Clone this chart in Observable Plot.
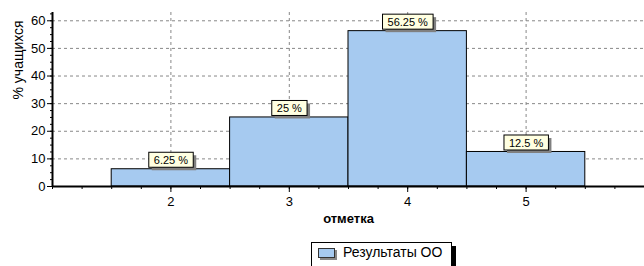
<!DOCTYPE html>
<html><head><meta charset="utf-8">
<script src="https://cdn.jsdelivr.net/npm/d3@7"></script>
<script src="https://cdn.jsdelivr.net/npm/@observablehq/plot@0.6"></script>
<style>
body{margin:0;background:#fff;font-family:Arial,"Liberation Sans",sans-serif;width:644px;height:266px;overflow:hidden;position:relative;}
#chart svg{display:block;}
#legend{position:absolute;left:311px;top:242px;width:139px;height:30px;border:1px solid #000;background:#fff;box-shadow:4px 4px 0 #000;}
#legend .sw{position:absolute;left:6px;top:5px;width:15px;height:8px;border:1px solid #333;background:#a6caf0;box-shadow:2px 2px 0 #888;}
#legend .lt{position:absolute;left:31px;top:1px;font-size:14px;color:#000;white-space:nowrap;}
</style></head><body>
<div id="chart"></div>
<div id="legend"><div class="sw"></div><div class="lt"></div></div>
<script>
const grades = [2, 3, 4, 5];
const percents = [6.25, 25, 56.25, 12.5];
const valueLabels = ["6.25 %", "25 %", "56.25 %", "12.5 %"];
const yTicks = [0, 10, 20, 30, 40, 50, 60];
const seriesName = "Результаты ОО";
const xTitle = "отметка";
const yTitle = "% учащихся";

const data = grades.map((g, i) => ({grade: g, value: percents[i], label: valueLabels[i]}));

const plot = Plot.plot({
  width: 644, height: 236,
  marginLeft: 52, marginRight: 0, marginTop: 12, marginBottom: 50,
  x: {domain: [1, 6]},
  y: {domain: [0, 63]},
  style: {fontFamily: "Arial, 'Liberation Sans', sans-serif", fontSize: "13px", color: "#000", background: "#fff"},
  marks: [
    Plot.gridY(yTicks.filter(d => d > 0), {stroke: "#888", strokeOpacity: 1, strokeDasharray: "3,3"}),
    Plot.gridX(grades, {stroke: "#888", strokeOpacity: 1, strokeDasharray: "3,3"}),
    Plot.rect(data, {x1: d => d.grade - 0.5, x2: d => d.grade + 0.5, y1: 0, y2: "value", fill: "#a6caf0", stroke: "#000", strokeWidth: 1}),
    Plot.axisX(d3.range(1, 6.001, 0.25), {tickSize: 3, tickFormat: () => "", label: null}),
    Plot.axisX(grades, {tickSize: 6, tickPadding: 4, label: null, tickFormat: d => String(d)}),
    Plot.axisY(d3.range(0, 63, 2.5), {tickSize: 2, tickFormat: () => "", label: null}),
    Plot.axisY(yTicks, {tickSize: 5, tickPadding: 2, label: null, tickFormat: d => String(d)}),
    Plot.ruleY([0], {stroke: "#000", strokeWidth: 2}),
    Plot.ruleX([1], {stroke: "#000", strokeWidth: 2}),
    Plot.text(data, {x: "grade", y: "value", text: "label", dy: -9, fontSize: 11, fill: "#000"}),
    Plot.text([xTitle], {frameAnchor: "bottom", dy: 36, fontWeight: "bold", fontSize: 13, fill: "#000"}),
    Plot.text([yTitle], {frameAnchor: "left", dx: -34, rotate: -90, fontSize: 14, fill: "#000"})
  ]
});
document.getElementById("chart").append(plot);
document.querySelector("#legend .lt").textContent = seriesName;

// boxes behind value labels
const NS = "http://www.w3.org/2000/svg";
plot.querySelectorAll("text").forEach(t => {
  if (!valueLabels.includes(t.textContent)) return;
  const parent = t.parentNode;
  const b = t.getBBox();
  const px = 5, py = 1.5;
  const tr = t.getAttribute("transform");
  const mk = (dx, fill, stroke) => {
    const r = document.createElementNS(NS, "rect");
    r.setAttribute("x", b.x - px + dx);
    r.setAttribute("y", b.y - py + dx);
    r.setAttribute("width", b.width + 2 * px);
    r.setAttribute("height", b.height + 2 * py);
    r.setAttribute("fill", fill);
    if (stroke) { r.setAttribute("stroke", stroke); r.setAttribute("stroke-width", 1); }
    if (tr) r.setAttribute("transform", tr);
    return r;
  };
  parent.insertBefore(mk(3, "#808080", null), t);
  parent.insertBefore(mk(0, "#ffffe1", "#000"), t);
});
</script>
</body></html>
